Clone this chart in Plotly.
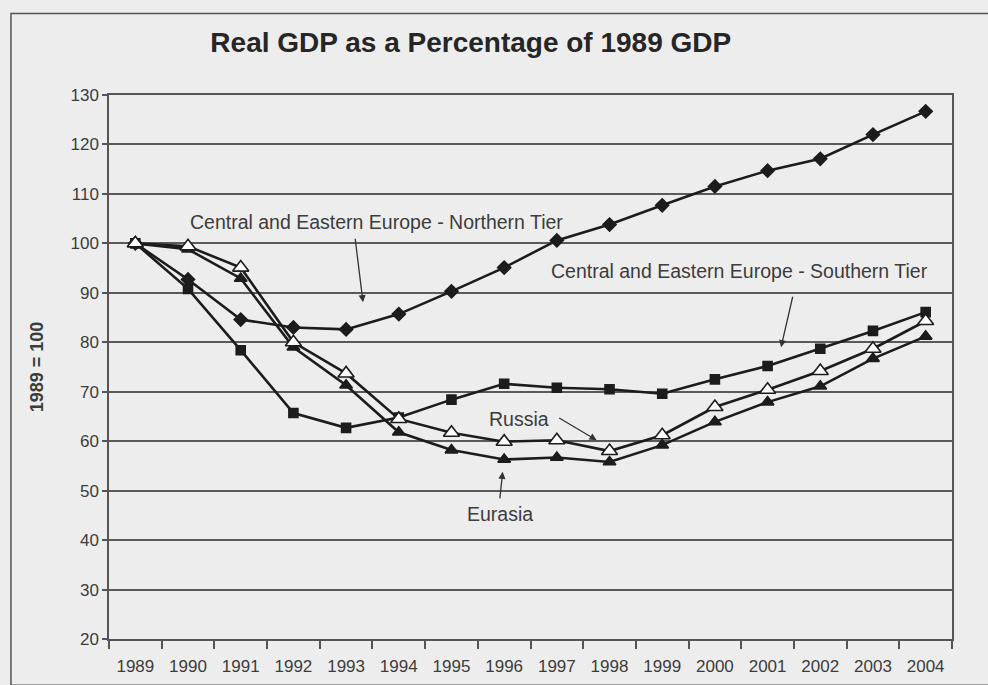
import plotly.graph_objects as go

years = [str(y) for y in range(1989, 2005)]
northern_tier = [100, 92.7, 84.6, 83.0, 82.6, 85.7, 90.3, 95.1, 100.6, 103.8, 107.7, 111.5, 114.7, 117.1, 122.0, 126.7]
southern_tier = [100, 90.8, 78.4, 65.7, 62.7, 64.8, 68.4, 71.6, 70.8, 70.5, 69.6, 72.5, 75.2, 78.7, 82.3, 86.1]
eurasia = [100, 98.8, 92.9, 79.0, 71.3, 61.8, 58.2, 56.3, 56.7, 55.8, 59.2, 63.9, 67.9, 71.1, 76.7, 81.2]
russia = [100, 99.4, 95.1, 80.0, 73.7, 64.5, 61.7, 59.9, 60.2, 58.0, 61.2, 66.9, 70.4, 74.2, 78.7, 84.3]
y_ticks = list(range(20, 131, 10))

LINE = "#1c1c1c"
TXT = "#3c3c3c"
BG = "#ededed"
FONT = "Arial, Liberation Sans, sans-serif"

fig = go.Figure()

def add(series, symbol, size, fill):
    fig.add_trace(go.Scatter(
        x=years, y=series, mode="lines+markers",
        line=dict(color=LINE, width=2.6),
        marker=dict(symbol=symbol, size=size, color=fill,
                    line=dict(color=LINE, width=1.6)),
        showlegend=False, cliponaxis=False))

add(northern_tier, "diamond", 10, LINE)
add(southern_tier, "square", 9, LINE)
add(eurasia, "triangle-up", 11, LINE)
add(russia, "triangle-up", 14, "#ffffff")

ann = []
def label(text, x, y):
    ann.append(dict(text=text, x=x, y=y, xref="paper", yref="paper",
                    showarrow=False, xanchor="center", yanchor="middle",
                    font=dict(family=FONT, size=19.5, color=TXT)))

def arrow(x, y, ax, ay):
    ann.append(dict(text="", x=x, y=y, xref="paper", yref="paper",
                    showarrow=True, ax=ax, ay=ay, arrowhead=2, arrowsize=1.1,
                    arrowwidth=1.3, arrowcolor="#333333"))

label("Central and Eastern Europe - Northern Tier", 0.3179, 0.7658)
label("Central and Eastern Europe - Southern Tier", 0.7485, 0.6764)
label("Russia", 0.4864, 0.404)
label("Eurasia", 0.4644, 0.2296)
arrow(0.3013, 0.619, -8, -65)
arrow(0.7972, 0.5363, 12, -52)
arrow(0.5785, 0.3655, -39, -23)
arrow(0.467, 0.3073, -3, 28)

fig.update_layout(
    width=988, height=685,
    margin=dict(l=109, r=36, t=95, b=46),
    paper_bgcolor=BG, plot_bgcolor=BG,
    font=dict(family=FONT, color=TXT),
    title=dict(text="<b>Real GDP as a Percentage of 1989 GDP</b>",
               x=0.4765, xanchor="center", y=0.939, yanchor="middle",
               font=dict(family=FONT, size=28, color="#262626")),
    annotations=ann,
    shapes=[dict(type="rect", xref="paper", yref="paper",
                 x0=-0.1163, x1=1.2, y0=-0.085, y1=1.1497,
                 line=dict(color="#555555", width=1.5))],
)

fig.update_xaxes(
    type="category", categoryorder="array", categoryarray=years,
    range=[-0.5, 15.5], tickson="boundaries", ticks="outside", ticklen=8,
    tickcolor="#555555", tickwidth=1.5, showgrid=False, automargin=False,
    showline=True, linecolor="#555555", linewidth=1.5, mirror=True,
    tickfont=dict(family=FONT, size=17, color=TXT), ticklabelstandoff=11,
)
fig.update_yaxes(
    range=[20, 130], tickvals=y_ticks, ticks="outside", ticklen=5,
    tickcolor="#555555", tickwidth=1.5, automargin=False,
    showgrid=True, gridcolor="#5a5a5a", gridwidth=1.5, zeroline=False,
    showline=True, linecolor="#555555", linewidth=1.5, mirror=True,
    tickfont=dict(family=FONT, size=17, color=TXT),
    title=dict(text="<b>1989 = 100</b>", standoff=22,
               font=dict(family=FONT, size=18, color=TXT)),
)

fig.write_html("out.html")
